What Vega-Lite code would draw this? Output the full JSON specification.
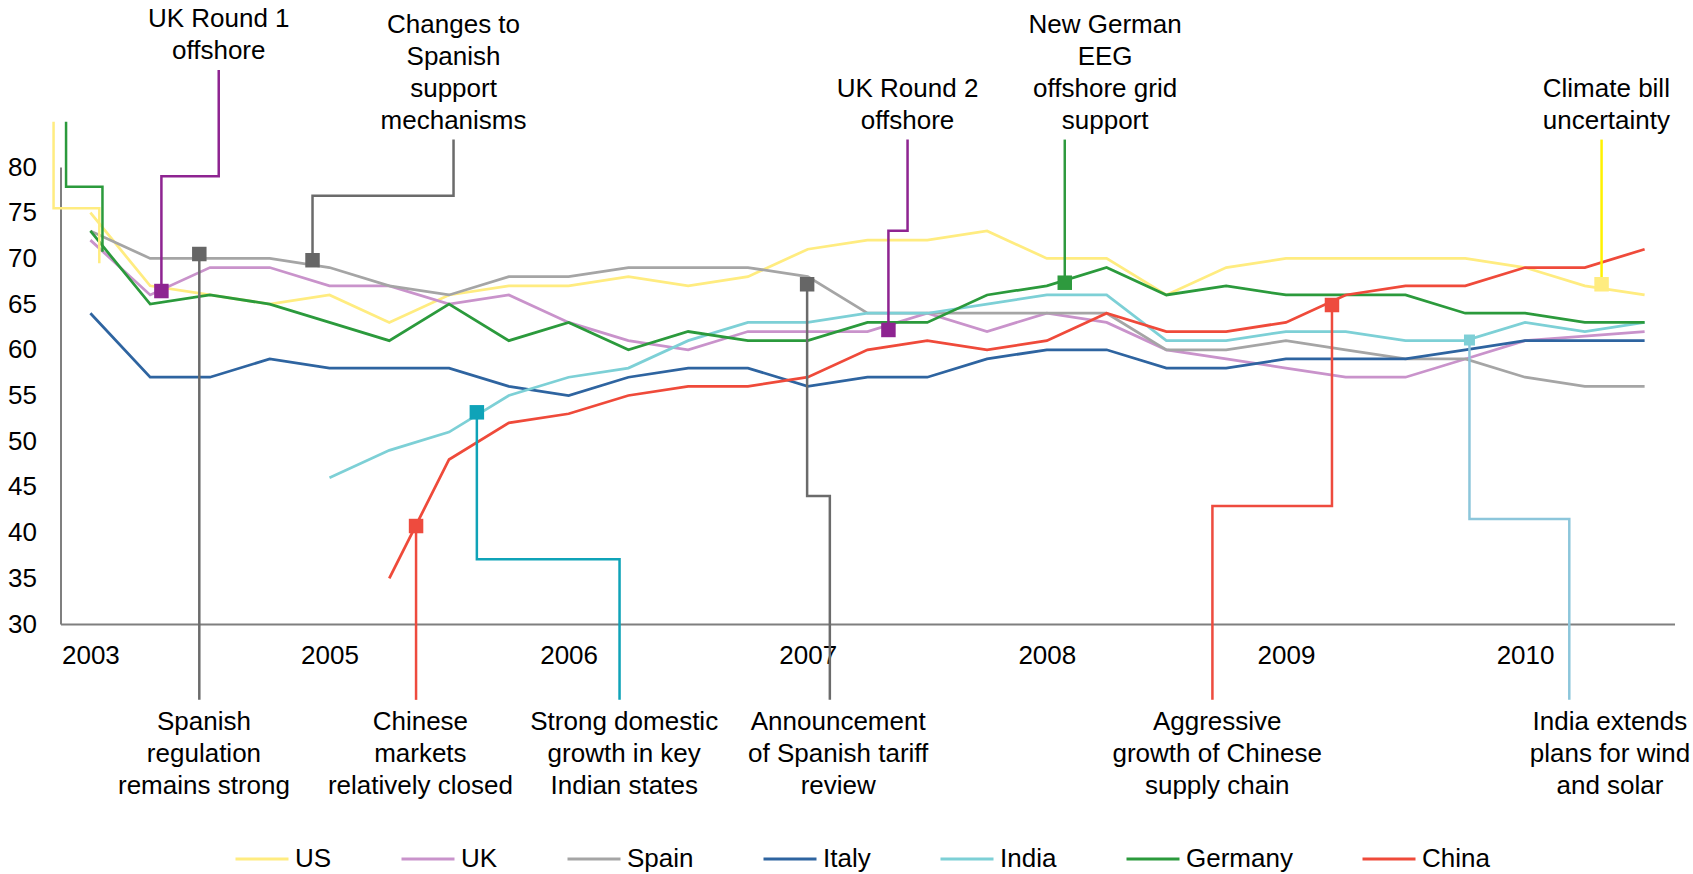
{
  "$schema": "https://vega.github.io/schema/vega-lite/v6.json",
  "width": 1614,
  "height": 457,
  "autosize": {"type": "none"},
  "padding": {"left": 60.5, "top": 167, "right": 18.5, "bottom": 250},
  "background": "white",
  "config": {"view": {"stroke": null}, "font": "Liberation Sans"},
  "datasets": {
    "series": [
      {"c":"US","t":0,"v":75},{"c":"US","t":1,"v":67},{"c":"US","t":2,"v":66},{"c":"US","t":3,"v":65},{"c":"US","t":4,"v":66},{"c":"US","t":5,"v":63},{"c":"US","t":6,"v":66},{"c":"US","t":7,"v":67},{"c":"US","t":8,"v":67},{"c":"US","t":9,"v":68},{"c":"US","t":10,"v":67},{"c":"US","t":11,"v":68},{"c":"US","t":12,"v":71},{"c":"US","t":13,"v":72},{"c":"US","t":14,"v":72},{"c":"US","t":15,"v":73},{"c":"US","t":16,"v":70},{"c":"US","t":17,"v":70},{"c":"US","t":18,"v":66},{"c":"US","t":19,"v":69},{"c":"US","t":20,"v":70},{"c":"US","t":21,"v":70},{"c":"US","t":22,"v":70},{"c":"US","t":23,"v":70},{"c":"US","t":24,"v":69},{"c":"US","t":25,"v":67},{"c":"US","t":26,"v":66},
      {"c":"UK","t":0,"v":72},{"c":"UK","t":1,"v":66},{"c":"UK","t":2,"v":69},{"c":"UK","t":3,"v":69},{"c":"UK","t":4,"v":67},{"c":"UK","t":5,"v":67},{"c":"UK","t":6,"v":65},{"c":"UK","t":7,"v":66},{"c":"UK","t":8,"v":63},{"c":"UK","t":9,"v":61},{"c":"UK","t":10,"v":60},{"c":"UK","t":11,"v":62},{"c":"UK","t":12,"v":62},{"c":"UK","t":13,"v":62},{"c":"UK","t":14,"v":64},{"c":"UK","t":15,"v":62},{"c":"UK","t":16,"v":64},{"c":"UK","t":17,"v":63},{"c":"UK","t":18,"v":60},{"c":"UK","t":19,"v":59},{"c":"UK","t":20,"v":58},{"c":"UK","t":21,"v":57},{"c":"UK","t":22,"v":57},{"c":"UK","t":23,"v":59},{"c":"UK","t":24,"v":61},{"c":"UK","t":25,"v":61.5},{"c":"UK","t":26,"v":62},
      {"c":"Spain","t":0,"v":73},{"c":"Spain","t":1,"v":70},{"c":"Spain","t":2,"v":70},{"c":"Spain","t":3,"v":70},{"c":"Spain","t":4,"v":69},{"c":"Spain","t":5,"v":67},{"c":"Spain","t":6,"v":66},{"c":"Spain","t":7,"v":68},{"c":"Spain","t":8,"v":68},{"c":"Spain","t":9,"v":69},{"c":"Spain","t":10,"v":69},{"c":"Spain","t":11,"v":69},{"c":"Spain","t":12,"v":68},{"c":"Spain","t":13,"v":64},{"c":"Spain","t":14,"v":64},{"c":"Spain","t":15,"v":64},{"c":"Spain","t":16,"v":64},{"c":"Spain","t":17,"v":64},{"c":"Spain","t":18,"v":60},{"c":"Spain","t":19,"v":60},{"c":"Spain","t":20,"v":61},{"c":"Spain","t":21,"v":60},{"c":"Spain","t":22,"v":59},{"c":"Spain","t":23,"v":59},{"c":"Spain","t":24,"v":57},{"c":"Spain","t":25,"v":56},{"c":"Spain","t":26,"v":56},
      {"c":"Italy","t":0,"v":64},{"c":"Italy","t":1,"v":57},{"c":"Italy","t":2,"v":57},{"c":"Italy","t":3,"v":59},{"c":"Italy","t":4,"v":58},{"c":"Italy","t":5,"v":58},{"c":"Italy","t":6,"v":58},{"c":"Italy","t":7,"v":56},{"c":"Italy","t":8,"v":55},{"c":"Italy","t":9,"v":57},{"c":"Italy","t":10,"v":58},{"c":"Italy","t":11,"v":58},{"c":"Italy","t":12,"v":56},{"c":"Italy","t":13,"v":57},{"c":"Italy","t":14,"v":57},{"c":"Italy","t":15,"v":59},{"c":"Italy","t":16,"v":60},{"c":"Italy","t":17,"v":60},{"c":"Italy","t":18,"v":58},{"c":"Italy","t":19,"v":58},{"c":"Italy","t":20,"v":59},{"c":"Italy","t":21,"v":59},{"c":"Italy","t":22,"v":59},{"c":"Italy","t":23,"v":60},{"c":"Italy","t":24,"v":61},{"c":"Italy","t":25,"v":61},{"c":"Italy","t":26,"v":61},
      {"c":"India","t":4,"v":46},{"c":"India","t":5,"v":49},{"c":"India","t":6,"v":51},{"c":"India","t":7,"v":55},{"c":"India","t":8,"v":57},{"c":"India","t":9,"v":58},{"c":"India","t":10,"v":61},{"c":"India","t":11,"v":63},{"c":"India","t":12,"v":63},{"c":"India","t":13,"v":64},{"c":"India","t":14,"v":64},{"c":"India","t":15,"v":65},{"c":"India","t":16,"v":66},{"c":"India","t":17,"v":66},{"c":"India","t":18,"v":61},{"c":"India","t":19,"v":61},{"c":"India","t":20,"v":62},{"c":"India","t":21,"v":62},{"c":"India","t":22,"v":61},{"c":"India","t":23,"v":61},{"c":"India","t":24,"v":63},{"c":"India","t":25,"v":62},{"c":"India","t":26,"v":63},
      {"c":"Germany","t":0,"v":73},{"c":"Germany","t":1,"v":65},{"c":"Germany","t":2,"v":66},{"c":"Germany","t":3,"v":65},{"c":"Germany","t":4,"v":63},{"c":"Germany","t":5,"v":61},{"c":"Germany","t":6,"v":65},{"c":"Germany","t":7,"v":61},{"c":"Germany","t":8,"v":63},{"c":"Germany","t":9,"v":60},{"c":"Germany","t":10,"v":62},{"c":"Germany","t":11,"v":61},{"c":"Germany","t":12,"v":61},{"c":"Germany","t":13,"v":63},{"c":"Germany","t":14,"v":63},{"c":"Germany","t":15,"v":66},{"c":"Germany","t":16,"v":67},{"c":"Germany","t":17,"v":69},{"c":"Germany","t":18,"v":66},{"c":"Germany","t":19,"v":67},{"c":"Germany","t":20,"v":66},{"c":"Germany","t":21,"v":66},{"c":"Germany","t":22,"v":66},{"c":"Germany","t":23,"v":64},{"c":"Germany","t":24,"v":64},{"c":"Germany","t":25,"v":63},{"c":"Germany","t":26,"v":63},
      {"c":"China","t":5,"v":35},{"c":"China","t":6,"v":48},{"c":"China","t":7,"v":52},{"c":"China","t":8,"v":53},{"c":"China","t":9,"v":55},{"c":"China","t":10,"v":56},{"c":"China","t":11,"v":56},{"c":"China","t":12,"v":57},{"c":"China","t":13,"v":60},{"c":"China","t":14,"v":61},{"c":"China","t":15,"v":60},{"c":"China","t":16,"v":61},{"c":"China","t":17,"v":64},{"c":"China","t":18,"v":62},{"c":"China","t":19,"v":62},{"c":"China","t":20,"v":63},{"c":"China","t":21,"v":66},{"c":"China","t":22,"v":67},{"c":"China","t":23,"v":67},{"c":"China","t":24,"v":69},{"c":"China","t":25,"v":69},{"c":"China","t":26,"v":71}
    ],
    "callouts": [
      {"id":"w1","k":0,"who":"USold","t":-0.616,"v":84.96},{"id":"w1","k":1,"who":"USold","t":-0.616,"v":75.48},{"id":"w1","k":2,"who":"USold","t":0.149,"v":75.48},{"id":"w1","k":3,"who":"USold","t":0.149,"v":69.46},
      {"id":"w2","k":0,"who":"DEold","t":-0.407,"v":84.96},{"id":"w2","k":1,"who":"DEold","t":-0.407,"v":77.84},{"id":"w2","k":2,"who":"DEold","t":0.202,"v":77.84},{"id":"w2","k":3,"who":"DEold","t":0.202,"v":70.73},
      {"id":"a1","k":0,"who":"UK","t":1.188,"v":66.43},{"id":"a1","k":1,"who":"UK","t":1.188,"v":79.0},{"id":"a1","k":2,"who":"UK","t":2.147,"v":79.0},{"id":"a1","k":3,"who":"UK","t":2.147,"v":90.6},
      {"id":"a2","k":0,"who":"Spain","t":3.716,"v":69.8},{"id":"a2","k":1,"who":"Spain","t":3.716,"v":76.86},{"id":"a2","k":2,"who":"Spain","t":6.075,"v":76.86},{"id":"a2","k":3,"who":"Spain","t":6.075,"v":83.0},
      {"id":"a3","k":0,"who":"UK","t":13.35,"v":62.17},{"id":"a3","k":1,"who":"UK","t":13.35,"v":73.03},{"id":"a3","k":2,"who":"UK","t":13.67,"v":73.03},{"id":"a3","k":3,"who":"UK","t":13.67,"v":83.0},
      {"id":"a4","k":0,"who":"Germany","t":16.30,"v":67.34},{"id":"a4","k":1,"who":"Germany","t":16.30,"v":83.0},
      {"id":"a5","k":0,"who":"US","t":25.28,"v":67.17},{"id":"a5","k":1,"who":"US","t":25.28,"v":83.0},
      {"id":"a6","k":0,"who":"Spain","t":1.822,"v":70.48},{"id":"a6","k":1,"who":"Spain","t":1.822,"v":21.7},
      {"id":"a7","k":0,"who":"China","t":5.448,"v":40.72},{"id":"a7","k":1,"who":"China","t":5.448,"v":21.7},
      {"id":"a8","k":0,"who":"India","t":6.465,"v":53.16},{"id":"a8","k":1,"who":"India","t":6.465,"v":37.08},{"id":"a8","k":2,"who":"India","t":8.852,"v":37.08},{"id":"a8","k":3,"who":"India","t":8.852,"v":21.7},
      {"id":"a9","k":0,"who":"Spain","t":11.99,"v":67.17},{"id":"a9","k":1,"who":"Spain","t":11.99,"v":44.0},{"id":"a9","k":2,"who":"Spain","t":12.37,"v":44.0},{"id":"a9","k":3,"who":"Spain","t":12.37,"v":21.7},
      {"id":"a10","k":0,"who":"China","t":20.77,"v":64.9},{"id":"a10","k":1,"who":"China","t":20.77,"v":42.9},{"id":"a10","k":2,"who":"China","t":18.77,"v":42.9},{"id":"a10","k":3,"who":"China","t":18.77,"v":21.7},
      {"id":"a11","k":0,"who":"India2","t":23.07,"v":61.07},{"id":"a11","k":1,"who":"India2","t":23.07,"v":41.5},{"id":"a11","k":2,"who":"India2","t":24.74,"v":41.5},{"id":"a11","k":3,"who":"India2","t":24.74,"v":21.7}
    ],
    "markers": [
      {"who":"UK","t":1.188,"v":66.43},
      {"who":"Spain","t":3.716,"v":69.8},
      {"who":"UK","t":13.35,"v":62.17},
      {"who":"Germany","t":16.30,"v":67.34},
      {"who":"US","t":25.28,"v":67.17},
      {"who":"Spain","t":1.822,"v":70.48},
      {"who":"China","t":5.448,"v":40.72},
      {"who":"India","t":6.465,"v":53.16},
      {"who":"Spain","t":11.99,"v":67.17},
      {"who":"China","t":20.77,"v":64.9},
      {"who":"India2","t":23.07,"v":61.07}
    ],
    "notes": [
      {"label":"UK Round 1\noffshore","t":2.147,"v":96.19},
      {"label":"Changes to\nSpanish\nsupport\nmechanisms","t":6.075,"v":95.54},
      {"label":"UK Round 2\noffshore","t":13.67,"v":88.53},
      {"label":"New German\nEEG\noffshore grid\nsupport","t":16.975,"v":95.54},
      {"label":"Climate bill\nuncertainty","t":25.36,"v":88.53},
      {"label":"Spanish\nregulation\nremains strong","t":1.90,"v":19.28},
      {"label":"Chinese\nmarkets\nrelatively closed","t":5.52,"v":19.28},
      {"label":"Strong domestic\ngrowth in key\nIndian states","t":8.93,"v":19.28},
      {"label":"Announcement\nof Spanish tariff\nreview","t":12.51,"v":19.28},
      {"label":"Aggressive\ngrowth of Chinese\nsupply chain","t":18.85,"v":19.28},
      {"label":"India extends\nplans for wind\nand solar","t":25.42,"v":19.28}
    ]
  },
  "encoding": {
    "x": {
      "field": "t", "type": "quantitative",
      "scale": {"domain": [-0.5, 26.5], "nice": false, "zero": false},
      "axis": {
        "values": [0, 4, 8, 12, 16, 20, 24],
        "labelExpr": "['2003','2005','2006','2007','2008','2009','2010'][round(datum.value/4)]",
        "title": null, "grid": false, "ticks": false,
        "domainColor": "#7f7f7f", "domainWidth": 2,
        "labelFontSize": 26, "labelColor": "#000000", "labelPadding": 18,
        "labelFlush": false, "labelOverlap": false, "labelBound": false
      }
    },
    "y": {
      "field": "v", "type": "quantitative",
      "scale": {"domain": [30, 80], "nice": false, "zero": false},
      "axis": {
        "values": [30, 35, 40, 45, 50, 55, 60, 65, 70, 75, 80],
        "title": null, "grid": false, "ticks": false,
        "domainColor": "#7f7f7f", "domainWidth": 2,
        "labelFontSize": 26, "labelColor": "#000000", "labelPadding": 24,
        "labelFlush": false, "labelOverlap": false, "labelBound": false
      }
    }
  },
  "layer": [
    {
      "data": {"name": "series"},
      "mark": {"type": "line", "strokeWidth": 2.75},
      "encoding": {
        "color": {
          "field": "c", "type": "nominal",
          "scale": {
            "domain": ["US", "UK", "Spain", "Italy", "India", "Germany", "China"],
            "range": ["#FFEC80", "#C993CB", "#A5A5A5", "#2E64A0", "#7DD0D6", "#2B9A3C", "#EF4A3A"]
          },
          "legend": {
            "title": null, "orient": "none", "legendX": 173.5, "legendY": 664,
            "direction": "horizontal", "symbolType": "stroke", "symbolSize": 2809,
            "symbolStrokeWidth": 3, "labelFontSize": 26, "labelColor": "#000000",
            "labelOffset": 5, "columnPadding": 63, "padding": 0, "labelLimit": 400
          }
        }
      }
    },
    {
      "data": {"name": "callouts"},
      "mark": {"type": "line", "strokeWidth": 2.5},
      "encoding": {
        "detail": {"field": "id", "type": "nominal"},
        "order": {"field": "k", "type": "quantitative"},
        "stroke": {
          "field": "who", "type": "nominal",
          "scale": {
            "domain": ["UK", "Spain", "Germany", "US", "China", "India", "India2", "USold", "DEold"],
            "range": ["#8E2491", "#6B6B6B", "#2E9A3E", "#FFF200", "#EE4B3E", "#0FA3B8", "#8CC6DB", "#FFEC80", "#2B9A3C"]
          },
          "legend": null
        }
      }
    },
    {
      "data": {"name": "markers"},
      "mark": {"type": "square", "opacity": 1},
      "encoding": {
        "fill": {
          "field": "who", "type": "nominal",
          "scale": {
            "domain": ["UK", "Spain", "Germany", "US", "China", "India", "India2"],
            "range": ["#8E2491", "#666666", "#2E9A3E", "#FFEC80", "#EE4B3E", "#0FA3B8", "#7ECFD6"]
          },
          "legend": null
        },
        "size": {"condition": {"test": "datum.who === 'India2'", "value": 121}, "value": 210}
      }
    },
    {
      "data": {"name": "notes"},
      "mark": {"type": "text", "fontSize": 26, "lineHeight": 32, "lineBreak": "\n", "align": "center", "baseline": "middle", "color": "#000000"},
      "encoding": {"text": {"field": "label", "type": "nominal"}}
    }
  ]
}
